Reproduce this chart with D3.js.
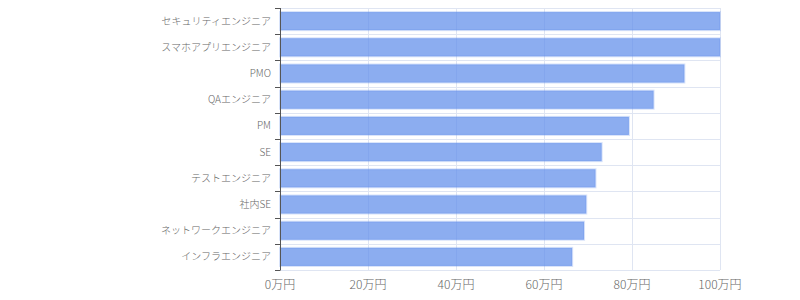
<!DOCTYPE html>
<html>
<head>
<meta charset="utf-8">
<script src="https://cdn.jsdelivr.net/npm/d3@7"></script>
<style>
  body { margin: 0; background: #fff; }
  svg text { font-family: "Noto Sans CJK JP", "Noto Sans", sans-serif; fill: #666; font-weight: 300; }
</style>
</head>
<body>
<svg id="chart" width="800" height="300"></svg>
<script>
// job categories, top to bottom
const categories = ['セキュリティエンジニア', 'スマホアプリエンジニア', 'PMO', 'QAエンジニア', 'PM',
    'SE', 'テストエンジニア', '社内SE', 'ネットワークエンジニア', 'インフラエンジニア'];
// values in 万円
const values = [100, 100, 91.9, 84.9, 79.3, 73.1, 71.7, 69.6, 69.1, 66.4];
const xTicks = [0, 20, 40, 60, 80, 100];

let svg = d3.select('svg#chart'),
    margin = {top: 8, right: 80, bottom: 30, left: 280},
    width = +svg.attr('width') - margin.left - margin.right,
    height = +svg.attr('height') - margin.top - margin.bottom;

let data = categories.map((c, i) => ({name: c, value: values[i]}));

let xScale = d3.scaleLinear().domain([0, 100]).range([0, width]);
let yScale = d3.scaleBand().domain(categories).range([0, height]).paddingInner(0.31).paddingOuter(0.155);
let step = yScale.step();

let g = svg.append('g').attr('transform', 'translate(' + margin.left + ',' + margin.top + ')');

// grid
let gridColor = '#dfe5f2';
g.append('g').selectAll('line.v')
    .data(xTicks).enter().append('line')
    .attr('x1', d => Math.round(xScale(d)) + 0.5).attr('x2', d => Math.round(xScale(d)) + 0.5)
    .attr('y1', 0).attr('y2', height)
    .attr('stroke', gridColor);
g.append('g').selectAll('line.h')
    .data(d3.range(categories.length + 1)).enter().append('line')
    .attr('x1', 0).attr('x2', width)
    .attr('y1', d => Math.round(d * step) + 0.5).attr('y2', d => Math.round(d * step) + 0.5)
    .attr('stroke', gridColor);

// bars
g.append('g').selectAll('rect.bar')
    .data(data).enter().append('rect')
    .attr('class', 'bar')
    .attr('x', 0)
    .attr('y', d => yScale(d.name))
    .attr('width', d => xScale(d.value))
    .attr('height', yScale.bandwidth())
    .attr('fill', 'rgb(100,145,235)')
    .attr('fill-opacity', 0.74)
    .attr('stroke', 'rgb(100,145,235)')
    .attr('stroke-opacity', 0.25)
    .attr('stroke-width', 2);

// y axis
let yAxis = g.append('g');
yAxis.append('line')
    .attr('x1', 0.5).attr('x2', 0.5).attr('y1', 0).attr('y2', height)
    .attr('stroke', '#555');
yAxis.selectAll('line.tick')
    .data(d3.range(categories.length + 1)).enter().append('line')
    .attr('x1', -5).attr('x2', 0.5)
    .attr('y1', d => Math.round(d * step) + 0.5).attr('y2', d => Math.round(d * step) + 0.5)
    .attr('stroke', '#555');
yAxis.selectAll('text')
    .data(categories).enter().append('text')
    .attr('x', -9)
    .attr('y', d => yScale(d) + yScale.bandwidth() / 2)
    .attr('dy', '0.35em')
    .attr('text-anchor', 'end')
    .style('font-size', '10px')
    .text(d => d);

// x axis labels
g.append('g').selectAll('text')
    .data(xTicks).enter().append('text')
    .attr('x', d => xScale(d))
    .attr('y', height + 19)
    .attr('text-anchor', 'middle')
    .style('font-size', '12px')
    .text(d => d + '万円');
</script>
</body>
</html>
